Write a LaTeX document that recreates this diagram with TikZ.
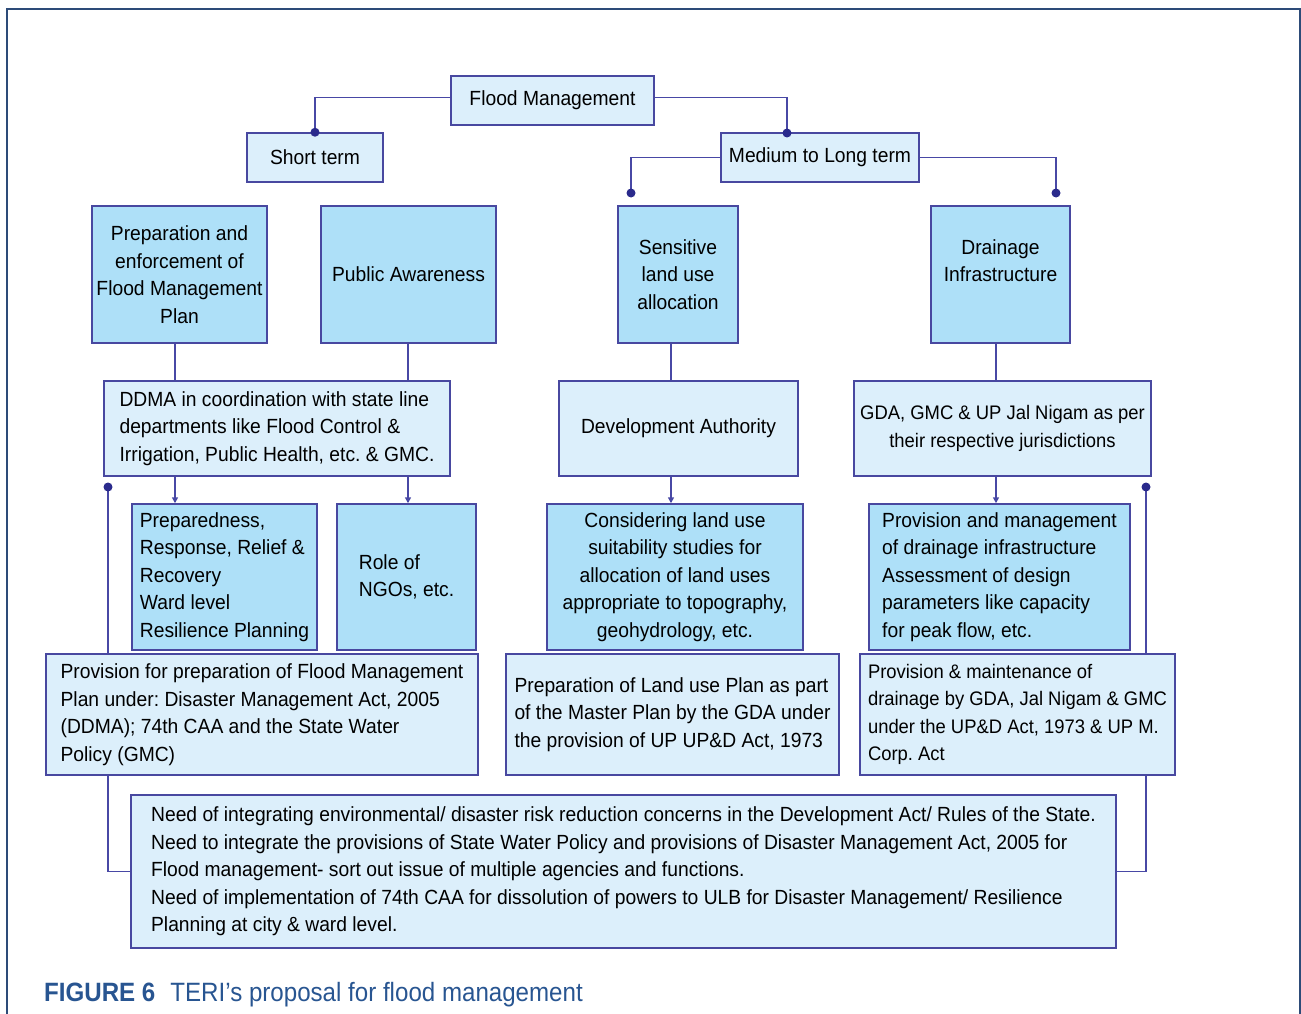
\documentclass[tikz,border=0pt]{standalone}
\usepackage{fontspec}
\setmainfont{Liberation Sans}[FakeStretch=0.94]
\newfontfamily\capfont{Liberation Sans}[FakeStretch=0.91]
\usetikzlibrary{arrows.meta,backgrounds}
\definecolor{lightbox}{RGB}{220,239,251}
\definecolor{brightbox}{RGB}{174,224,248}
\definecolor{bordercol}{RGB}{72,72,160}
\definecolor{linecol}{RGB}{72,72,165}
\definecolor{dotcol}{RGB}{42,42,140}
\definecolor{framecol}{RGB}{45,75,120}
\definecolor{capblue}{RGB}{40,85,145}
\newcommand\bx[7]{\node[#2, minimum width={#5-#3}, minimum height={#6-#4}] (#1) at ({(#3+#5)/2},{(#4+#6)/2}) {#7};}
\begin{document}
\frenchspacing
\begin{tikzpicture}[x=1pt,y=-1pt,
  box/.style={draw=bordercol, line width=1.5pt, fill=lightbox, align=center, inner sep=0pt,
              font=\fontsize{20.5}{27.5}\selectfont, text=black},
  bright/.style={box, fill=brightbox},
  lbox/.style={box, align=left},
  lbright/.style={bright, align=left},
  smaller/.style={font=\fontsize{19.6}{27.5}\selectfont},
  conn/.style={draw=linecol, line width=1.6pt},
  arr/.style={conn, -{Triangle[width=6pt,length=6pt]}},
  dotmark/.style={fill=dotcol}]
\useasboundingbox (0,0) rectangle (1301,1014);
\draw[framecol, line width=2.5pt] (7,1020) -- (7,9) -- (1300,9) -- (1300,1020);

% level 0/1
\bx{fm}{box}{451}{76}{654}{125}{Flood Management}
\bx{st}{box}{247}{133}{383}{182}{Short term}
\bx{ml}{box}{721}{133}{919}{182}{Medium to Long term}

% level 2
\bx{prep}{bright}{92}{206}{267}{343}{Preparation and\\enforcement of\\Flood Management\\Plan}
\bx{pa}{bright}{321}{206}{496}{343}{Public Awareness}
\bx{sens}{bright}{618}{206}{738}{343}{Sensitive\\land use\\allocation}
\bx{drain}{bright}{931}{206}{1070}{343}{Drainage\\Infrastructure\\\mbox{}}

% level 3
\bx{ddma}{lbox}{104}{381}{450}{476}{DDMA in coordination with state line\\departments like Flood Control \&\\Irrigation, Public Health, etc. \& GMC.}
\bx{da}{box}{559}{381}{798}{476}{Development Authority}
\bx{gda}{box,smaller}{854}{381}{1151}{476}{GDA, GMC \& UP Jal Nigam as per\\their respective jurisdictions}

% level 4
\bx{prr}{lbright}{132}{504}{317}{650}{Preparedness,\\Response, Relief \&\\Recovery\\Ward level\\Resilience Planning}
\bx{ngo}{lbright}{337}{504}{476}{650}{Role of\\NGOs, etc.}
\bx{cons}{bright}{547}{504}{803}{650}{Considering land use\\suitability studies for\\allocation of land uses\\appropriate to topography,\\geohydrology, etc.}
\bx{pmd}{lbright}{869}{504}{1130}{650}{Provision and management\\of drainage infrastructure\\Assessment of design\\parameters like capacity\\for peak flow, etc.}

% level 5
\bx{pfp}{lbox}{46}{654}{478}{775}{Provision for preparation of Flood Management\\Plan under: Disaster Management Act, 2005\\(DDMA); 74th CAA and the State Water\\Policy (GMC)}
\bx{plu}{lbox}{506}{654}{839}{775}{Preparation of Land use Plan as part\\of the Master Plan by the GDA under\\the provision of UP UP\&D Act, 1973}
\bx{pmg}{lbox,smaller}{860}{654}{1175}{775}{Provision \& maintenance of\\drainage by GDA, Jal Nigam \& GMC\\under the UP\&D Act, 1973 \& UP M.\\Corp. Act}

% level 6
\bx{need}{lbox}{131}{795}{1116}{948}{Need of integrating environmental/ disaster risk reduction concerns in the Development Act/ Rules of the State.\\Need to integrate the provisions of State Water Policy and provisions of Disaster Management Act, 2005 for\\Flood management- sort out issue of multiple agencies and functions.\\Need of implementation of 74th CAA for dissolution of powers to ULB for Disaster Management/ Resilience\\Planning at city \& ward level.}

% coordinates
\coordinate (mlTop) at (787,133);
\coordinate (dS) at (631,193);
\coordinate (dD) at (1056,193);
\coordinate (cA) at (175,0);
\coordinate (cB) at (408,0);
\coordinate (cC) at (671,0);
\coordinate (cD) at (996,0);
\coordinate (dL) at (108,487);
\coordinate (dR) at (1146,487);

% connectors
\draw[conn] ([yshift=3pt]fm.west) -| (st.north);
\draw[conn] ([yshift=3pt]fm.east) -| (mlTop);
\draw[conn] (ml.west) -| (dS);
\draw[conn] (ml.east) -| (dD);
\draw[conn] (prep.south -| cA) -- (ddma.north -| cA);
\draw[conn] (pa.south -| cB) -- (ddma.north -| cB);
\draw[conn] (sens.south -| cC) -- (da.north -| cC);
\draw[conn] (drain.south -| cD) -- (gda.north -| cD);
\draw[arr] (ddma.south -| cA) -- (prr.north -| cA);
\draw[arr] (ddma.south -| cB) -- (ngo.north -| cB);
\draw[arr] (da.south -| cC) -- (cons.north -| cC);
\draw[arr] (gda.south -| cD) -- (pmd.north -| cD);
\begin{scope}[on background layer]
\draw[conn] (dL) |- (need.west);
\draw[conn] (dR) |- (need.east);
\end{scope}

% dots
\fill[dotmark] (st.north) circle (4.5);
\fill[dotmark] (mlTop) circle (4.5);
\fill[dotmark] (dS) circle (4.5);
\fill[dotmark] (dD) circle (4.5);
\fill[dotmark] (dL) circle (4.5);
\fill[dotmark] (dR) circle (4.5);

% caption
\node[anchor=base west, inner sep=0pt, text=capblue, font=\capfont\fontsize{26.5}{30}\selectfont] (cap) at (44,1001) {\textbf{FIGURE 6}\hspace{15pt}TERI’s proposal for flood management};
\end{tikzpicture}
\end{document}
